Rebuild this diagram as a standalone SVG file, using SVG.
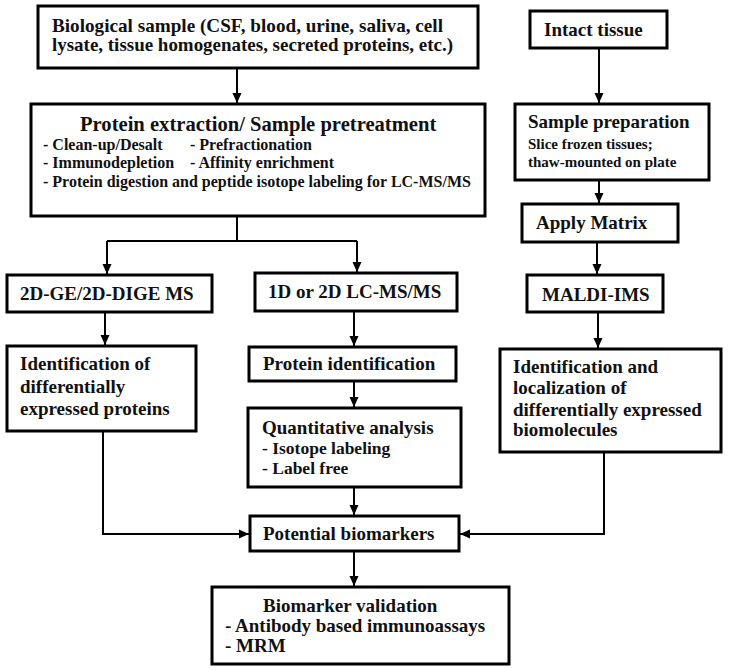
<svg xmlns="http://www.w3.org/2000/svg" width="729" height="671" viewBox="0 0 729 671">
<style>
.box{fill:#fff;stroke:#000;stroke-width:3}
.c{fill:none;stroke:#000;stroke-width:2}
</style>
<defs>
<marker id="ah" markerUnits="userSpaceOnUse" markerWidth="10" markerHeight="10" refX="10" refY="5" orient="auto">
<path d="M0,0.5 L10,5 L0,9.5 z" fill="#000"/>
</marker>
</defs>
<rect width="729" height="671" fill="#fff"/>
<g id="connectors">
<path class="c" d="M237,68 V103" marker-end="url(#ah)"/>
<path class="c" d="M237,216 V241 M107,241 H357"/>
<path class="c" d="M107,241 V274" marker-end="url(#ah)"/>
<path class="c" d="M357,241 V272" marker-end="url(#ah)"/>
<path class="c" d="M105,312 V345" marker-end="url(#ah)"/>
<path class="c" d="M354,311 V346" marker-end="url(#ah)"/>
<path class="c" d="M354,381 V407" marker-end="url(#ah)"/>
<path class="c" d="M354,487 V515" marker-end="url(#ah)"/>
<path class="c" d="M354,551 V586" marker-end="url(#ah)"/>
<path class="c" d="M103,431 V534 H249" marker-end="url(#ah)"/>
<path class="c" d="M604,452 V534 H460" marker-end="url(#ah)"/>
<path class="c" d="M599,48 V103" marker-end="url(#ah)"/>
<path class="c" d="M599,180 V203" marker-end="url(#ah)"/>
<path class="c" d="M597,242 V274" marker-end="url(#ah)"/>
<path class="c" d="M598,312 V348" marker-end="url(#ah)"/>
</g>
<g font-family="Liberation Serif, Times New Roman, serif" font-weight="bold" fill="#111" font-size="19">
<g id="bio-sample">
<rect class="box" x="38" y="6" width="440" height="62"/>
<text x="52" y="32" textLength="391" lengthAdjust="spacingAndGlyphs">Biological sample (CSF, blood, urine, saliva, cell</text>
<text x="52" y="51" textLength="401" lengthAdjust="spacingAndGlyphs">lysate, tissue homogenates, secreted proteins, etc.)</text>
</g>
<g id="protein-extraction">
<rect class="box" x="31" y="104" width="454" height="112"/>
<text x="80" y="131" font-size="20.6">Protein extraction/ Sample pretreatment</text>
<text x="43" y="150" font-size="16">- Clean-up/Desalt</text>
<text x="190" y="150" font-size="16">- Prefractionation</text>
<text x="43" y="168" font-size="16">- Immunodepletion</text>
<text x="190" y="168" font-size="16">- Affinity enrichment</text>
<text x="43" y="187" font-size="16">- Protein digestion and peptide isotope labeling for LC-MS/MS</text>
</g>
<g id="ge-dige">
<rect class="box" x="7" y="275" width="205" height="37"/>
<text x="20" y="300">2D-GE/2D-DIGE MS</text>
</g>
<g id="lc-msms">
<rect class="box" x="255" y="273" width="202" height="38"/>
<text x="268" y="298">1D or 2D LC-MS/MS</text>
</g>
<g id="id-diff-proteins">
<rect class="box" x="7" y="346" width="189" height="85"/>
<text x="20" y="370">Identification of</text>
<text x="20" y="393">differentially</text>
<text x="20" y="415">expressed proteins</text>
</g>
<g id="protein-id">
<rect class="box" x="249" y="347" width="207" height="34"/>
<text x="263" y="370">Protein identification</text>
</g>
<g id="quant">
<rect class="box" x="248" y="408" width="213" height="79"/>
<text x="262" y="434">Quantitative analysis</text>
<text x="262" y="454" font-size="17.5">- Isotope labeling</text>
<text x="262" y="474" font-size="17.5">- Label free</text>
</g>
<g id="potential-biomarkers">
<rect class="box" x="250" y="516" width="209" height="35"/>
<text x="263" y="540">Potential biomarkers</text>
</g>
<g id="validation">
<rect class="box" x="212" y="587" width="297" height="77"/>
<text x="263" y="612">Biomarker validation</text>
<text x="225" y="632">- Antibody based immunoassays</text>
<text x="225" y="652">- MRM</text>
</g>
<g id="intact-tissue">
<rect class="box" x="530" y="11" width="137" height="37"/>
<text x="544" y="36">Intact tissue</text>
</g>
<g id="sample-prep">
<rect class="box" x="515" y="104" width="194" height="76"/>
<text x="528" y="128">Sample preparation</text>
<text x="528" y="149" font-size="15">Slice frozen tissues;</text>
<text x="528" y="167" font-size="15">thaw-mounted on plate</text>
</g>
<g id="apply-matrix">
<rect class="box" x="522" y="204" width="156" height="38"/>
<text x="536" y="229">Apply Matrix</text>
</g>
<g id="maldi-ims">
<rect class="box" x="527" y="275" width="136" height="37"/>
<text x="542" y="301">MALDI-IMS</text>
</g>
<g id="id-localization">
<rect class="box" x="500" y="349" width="221" height="103"/>
<text x="513" y="373">Identification and</text>
<text x="513" y="394">localization of</text>
<text x="513" y="416">differentially expressed</text>
<text x="513" y="436">biomolecules</text>
</g>
</g>
</svg>
